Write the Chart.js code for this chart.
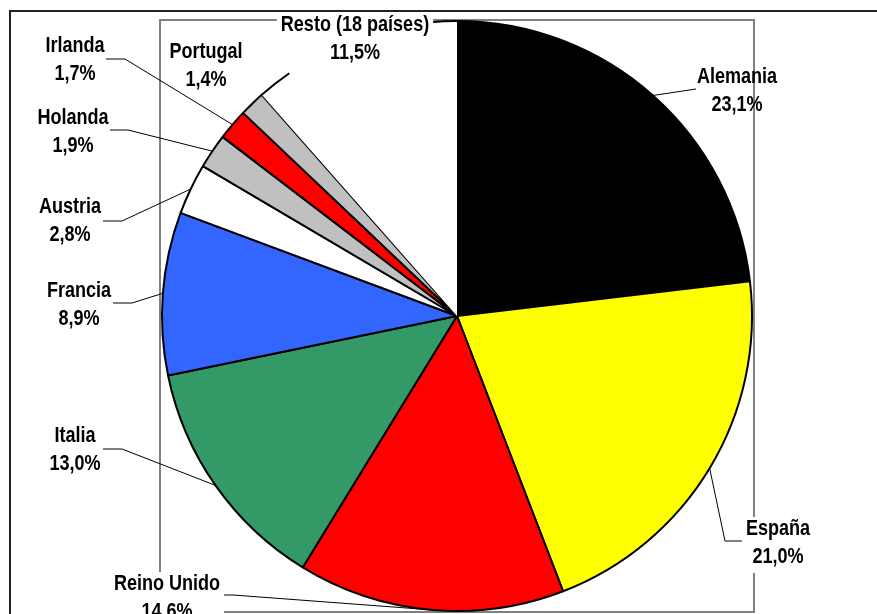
<!DOCTYPE html>
<html>
<head>
<meta charset="utf-8">
<script src="https://cdn.jsdelivr.net/npm/chart.js@4.4.1/dist/chart.umd.min.js"></script>
<style>
  html, body { margin: 0; padding: 0; background: #fff; }
  #wrap { width: 877px; height: 614px; position: relative; }
</style>
</head>
<body>
<div id="wrap"><canvas id="pieChart"></canvas></div>
<script>
// data
const countries = ['Alemania', 'España', 'Reino Unido', 'Italia', 'Francia', 'Austria', 'Holanda', 'Irlanda', 'Portugal', 'Resto (18 países)'];
const shares = [23.1, 21.0, 14.6, 13.0, 8.9, 2.8, 1.9, 1.7, 1.4, 11.5];
const sliceColors = ['#000000', '#FFFF00', '#FF0000', '#339966', '#3366FF', '#FFFFFF', '#C0C0C0', '#FF0000', '#C0C0C0', '#FFFFFF'];

// label placement: text centre x, first baseline y, white box?, leader elbow [x1,y1,x2,y2] (label side)
const labelPos = [
    { x: 737, y: 83,  box: false, leader: [696, 89, 696, 89] },
    { x: 778, y: 535, box: true,  leader: [743, 541, 725, 541] },
    { x: 167, y: 590, box: true,  leader: [223, 595, 233, 595] },
    { x: 75,  y: 442, box: false, leader: [103, 449, 122, 449] },
    { x: 79,  y: 297, box: false, leader: [113, 303, 132, 303] },
    { x: 70,  y: 213, box: false, leader: [103, 221, 122, 221] },
    { x: 73,  y: 124, box: false, leader: [110, 130, 128, 130] },
    { x: 75,  y: 52,  box: false, leader: [106, 59, 125, 59] },
    { x: 206, y: 58,  box: false, leader: null },
    { x: 355, y: 31,  box: true,  leader: null }
];

const fmt = v => v.toFixed(1).replace('.', ',') + '%';

let narrowFont = null;
function pickFont(ctx) {
    ctx.font = 'bold 22px monospace';
    const a = ctx.measureText('Alemania 23,1%').width;
    ctx.font = 'bold 22px "Liberation Sans Narrow", monospace';
    const b = ctx.measureText('Alemania 23,1%').width;
    narrowFont = (a !== b);
}

function drawText(ctx, text, cx, by) {
    ctx.save();
    if (narrowFont) {
        ctx.font = 'bold 22px "Liberation Sans Narrow"';
        ctx.textAlign = 'center';
        ctx.fillText(text, cx, by);
    } else {
        ctx.font = 'bold 22px "Liberation Sans", Arial';
        ctx.textAlign = 'center';
        ctx.translate(cx, by);
        ctx.scale(0.82, 1);
        ctx.fillText(text, 0, 0);
    }
    ctx.restore();
}
function textWidth(ctx, text) {
    ctx.save();
    ctx.font = narrowFont ? 'bold 22px "Liberation Sans Narrow"' : 'bold 22px "Liberation Sans", Arial';
    let w = ctx.measureText(text).width;
    ctx.restore();
    return narrowFont ? w : w * 0.82;
}

const framePlugin = {
    id: 'frame',
    beforeDatasetsDraw(chart) {
        const ctx = chart.ctx, a = chart.chartArea;
        if (narrowFont === null) pickFont(ctx);
        ctx.save();
        // outer frame
        ctx.strokeStyle = '#222';
        ctx.lineWidth = 2;
        ctx.strokeRect(10, 11, chart.width + 20, chart.height + 20);
        // plot area box
        ctx.strokeStyle = '#808080';
        ctx.lineWidth = 2;
        ctx.strokeRect(a.left, a.top, a.right - a.left, a.bottom - a.top);
        ctx.restore();
    },
    afterDatasetsDraw(chart) {
        const ctx = chart.ctx;
        const arcs = chart.getDatasetMeta(0).data;
        ctx.save();

        // bits of the rest slice outline that show in the original
        const rest = arcs[arcs.length - 1];
        const rp = rest.getProps(['x', 'y', 'startAngle', 'endAngle', 'outerRadius'], true);
        ctx.strokeStyle = '#000';
        ctx.lineWidth = 2;
        ctx.beginPath();
        ctx.arc(rp.x, rp.y, rp.outerRadius, rp.startAngle, rp.startAngle + 6.8 * Math.PI / 180);
        ctx.stroke();
        ctx.beginPath();
        ctx.arc(rp.x, rp.y, rp.outerRadius, rp.endAngle - 5.2 * Math.PI / 180, rp.endAngle);
        ctx.stroke();

        // leader lines
        ctx.lineWidth = 1;
        ctx.strokeStyle = '#000';
        arcs.forEach((arc, i) => {
            const lp = labelPos[i];
            if (!lp.leader) return;
            const p = arc.getProps(['x', 'y', 'startAngle', 'endAngle', 'outerRadius'], true);
            const mid = (p.startAngle + p.endAngle) / 2;
            const ex = p.x + Math.cos(mid) * p.outerRadius;
            const ey = p.y + Math.sin(mid) * p.outerRadius;
            ctx.beginPath();
            ctx.moveTo(lp.leader[0], lp.leader[1]);
            ctx.lineTo(lp.leader[2], lp.leader[3]);
            ctx.lineTo(ex, ey);
            ctx.stroke();
        });

        // labels
        ctx.fillStyle = '#000';
        countries.forEach((name, i) => {
            const lp = labelPos[i];
            const t2 = fmt(shares[i]);
            if (lp.box) {
                const w = Math.max(textWidth(ctx, name), textWidth(ctx, t2)) + 8;
                ctx.fillStyle = '#fff';
                ctx.fillRect(lp.x - w / 2, lp.y - 18, w, 56);
                ctx.fillStyle = '#000';
            }
            drawText(ctx, name, lp.x, lp.y);
            drawText(ctx, t2, lp.x, lp.y + 28);
        });
        ctx.restore();
    }
};

const ctxPie = document.getElementById('pieChart').getContext('2d');
new Chart(ctxPie, {
    type: 'pie',
    data: {
        labels: countries,
        datasets: [{
            data: shares,
            backgroundColor: sliceColors,
            borderColor: countries.map((c, i) => i === countries.length - 1 ? 'rgba(0,0,0,0)' : '#000'),
            borderWidth: countries.map((c, i) => i === countries.length - 1 ? 0 : 2)
        }]
    },
    options: {
        responsive: true,
        maintainAspectRatio: false,
        animation: false,
        devicePixelRatio: 1,
        plugins: { legend: { display: false }, tooltip: { enabled: false } },
        layout: { padding: { left: 160, right: 123, top: 20, bottom: 2 } }
    },
    plugins: [framePlugin]
});
</script>
</body>
</html>
